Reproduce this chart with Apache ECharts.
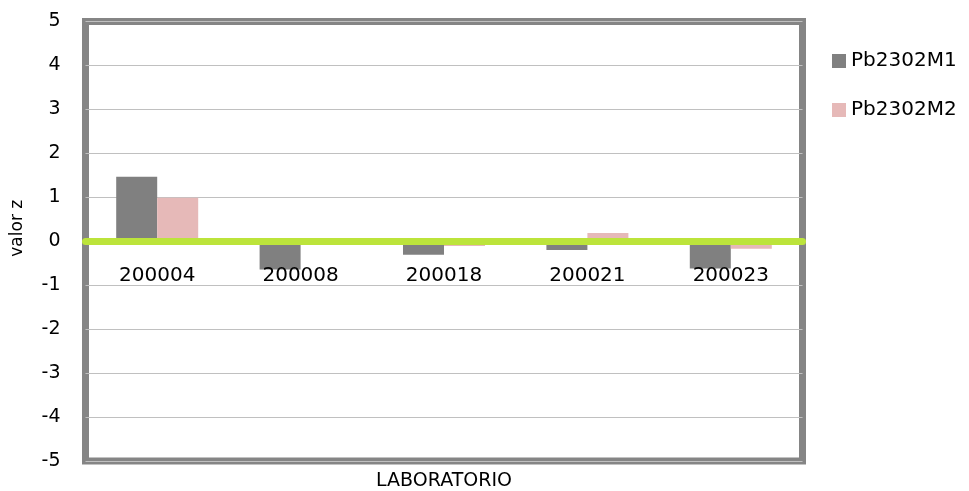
<!DOCTYPE html>
<html>
<head>
    <meta charset="utf-8">
    <title>valor z por laboratorio</title>
    <script src="https://cdn.jsdelivr.net/npm/echarts@6.0.0/dist/echarts.min.js"></script>
</head>
<body style="margin:0;background:#fff">
    <div id="main" style="width:969px;height:491px;"></div>

<script>
// datos
const labs = ['200004', '200008', '200018', '200021', '200023'];
const seriesNames = ['Pb2302M1', 'Pb2302M2'];
const m1 = [1.47, -0.64, -0.31, -0.2, -0.62];
const m2 = [0.99, -0.05, -0.11, 0.19, -0.17];
const yTicks = [-5, 5, 1]; // min, max, intervalo

const FONT = 'DejaVu Sans';
const GRID_TOP = 21.5, GRID_BOTTOM = 30, H = 491;
// distancia del borde inferior del grid hasta la línea del cero
const plotH = H - GRID_TOP - GRID_BOTTOM;
const zeroOffset = -plotH * (0 - yTicks[0]) / (yTicks[1] - yTicks[0]);

const myChart = echarts.init(document.getElementById('main'));

const option = {
    animation: false,
    textStyle: { fontFamily: FONT, color: '#000' },
    grid: {
        left: 85.5,
        right: 166.5,
        top: GRID_TOP,
        bottom: GRID_BOTTOM,
        outerBoundsMode: 'none',
        containLabel: false,
        show: true,
        borderColor: '#858585',
        borderWidth: 7,
        backgroundColor: 'transparent'
    },
    legend: {
        orient: 'vertical',
        left: 827,
        top: 46,
        itemWidth: 14,
        itemHeight: 14,
        itemGap: 29,
        icon: 'rect',
        textStyle: { fontFamily: FONT, fontSize: 20, color: '#000', lineHeight: 20 },
        data: seriesNames
    },
    xAxis: [{
        type: 'category',
        data: labs,
        position: 'bottom',
        offset: zeroOffset,
        z: 5,
        axisLine: { onZero: false, lineStyle: { color: '#bce43b', width: 7 } },
        axisTick: { show: false },
        axisLabel: { fontSize: 20, margin: 25, color: '#000', fontFamily: FONT },
        splitLine: { show: false }
    }, {
        type: 'category',
        data: labs,
        position: 'bottom',
        axisLine: { show: false, onZero: false },
        axisTick: { show: false },
        axisLabel: { show: false },
        name: 'LABORATORIO',
        nameLocation: 'middle',
        nameGap: 11,
        nameTextStyle: { fontSize: 19, color: '#000', fontFamily: FONT }
    }],
    yAxis: {
        type: 'value',
        min: yTicks[0],
        max: yTicks[1],
        interval: yTicks[2],
        name: 'valor z',
        nameLocation: 'middle',
        nameRotate: 90,
        nameGap: 59,
        nameTextStyle: { fontSize: 17, color: '#000', fontFamily: FONT, padding: [0, 0, 0, 26] },
        axisLine: { show: false },
        axisTick: { show: false },
        axisLabel: { fontSize: 19, margin: 25, color: '#000', fontFamily: FONT },
        splitLine: { lineStyle: { color: '#c0c0c0', width: 1 } }
    },
    series: [{
        name: seriesNames[0],
        type: 'bar',
        data: m1,
        barWidth: 41,
        barGap: '0%',
        itemStyle: { color: '#808080' }
    }, {
        name: seriesNames[1],
        type: 'bar',
        data: m2,
        barWidth: 41,
        barGap: '0%',
        itemStyle: { color: '#e6b9b8' }
    }]
};

myChart.setOption(option);
</script>
</body>
</html>
